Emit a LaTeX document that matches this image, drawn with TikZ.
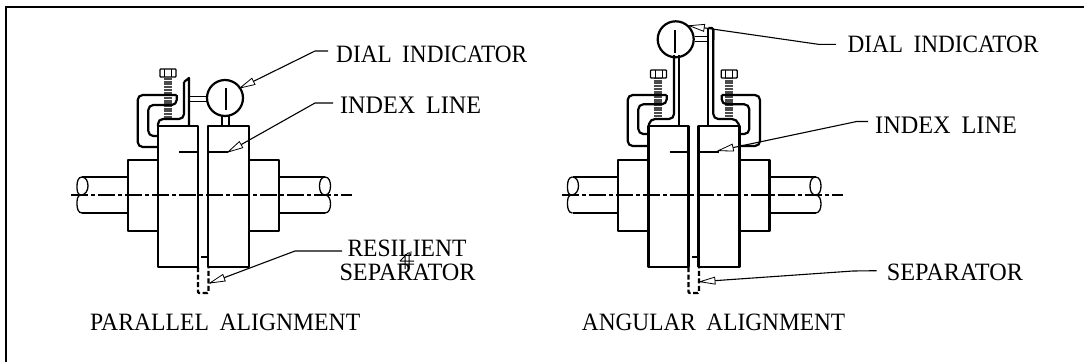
\documentclass[tikz,border=0pt]{standalone}
\usepackage{fontspec}
\usepackage{graphicx}
\usetikzlibrary{calc}
\setmainfont{Liberation Serif}
\tikzset{
 x=1pt,y=-1pt,
 heavy/.style={line width=2.2pt,line join=round},
 thin line/.style={line width=1.2pt},
 leader/.style={line width=1.1pt},
 tip/.style={draw=black,fill=white,line width=0.8pt},
 lab/.style={font=\fontsize{24}{24}\selectfont,inner sep=0pt,anchor=base west},
}
\newcommand{\fitw}[2]{\resizebox{#1pt}{16.5pt}{#2}}
\newcommand{\gap}{\hspace{0.45em}}
\newcommand{\leaderline}[4]{% tip, elbow, end, name
 \coordinate (#4tip) at (#1); \coordinate (#4elb) at (#2); \coordinate (#4end) at (#3);
 \draw[leader] (#4tip)--(#4elb)--(#4end);
 \draw[tip] (#4tip) -- ($(#4tip)!15pt!(#4elb)!3.5pt!90:(#4elb)$) -- ($(#4tip)!15pt!(#4elb)!3.5pt!-90:(#4elb)$) -- cycle;
}
\newcommand{\coupling}[1]{%
\begin{scope}[xshift=#1]
 % shafts
 \draw[heavy] (127.7,177)--(82,177) (127.7,213)--(82,213)
   (279,177)--(325,177) (279,213)--(325,213);
 \draw[line width=1.3pt] (82,177) to[out=180,in=90] (77,186) to[out=-90,in=180] (81,195) to[out=180,in=90] (77,204) to[out=-90,in=180] (82,213);
 \draw[line width=1.3pt] (82,177) to[out=0,in=90] (88,186) to[out=-90,in=0] (81,195);
 \draw[line width=1.3pt] (325,177) to[out=180,in=90] (319.5,186) to[out=-90,in=180] (325,195);
 \draw[line width=1.3pt] (325,177) to[out=0,in=90] (330.5,186) to[out=-90,in=0] (325,195) to[out=0,in=90] (330.5,204) to[out=-90,in=0] (325,213);
 % hubs
 \draw[heavy] (158,160)--(127.7,160)--(127.7,231)--(158,231);
 \draw[heavy] (249,160)--(279,160)--(279,231)--(249,231);
 % flanges
 \draw[heavy] (198,267)--(158,267)--(158,126)--(198,126)--(198,267);
 \draw[heavy] (208,267)--(249,267)--(249,126)--(208,126)--(208,267);
 % separator
 \draw[heavy] (201,257)--(208,257);
 \draw[heavy,dash pattern=on 5pt off 2.5pt,rounded corners=1pt] (198,267)--(198,293)--(208.5,293)--(208.5,267);
 % index marks
 \draw[heavy] (179,152)--(198,152) (208,152)--(228,152);
 % centre line
 \draw[line width=1.6pt,dash pattern=on 17pt off 3pt on 4pt off 3pt] (71,195)--(352,195);
\end{scope}}
\newcommand{\threads}[3]{% x centre, y0, y1
 \draw[black!70,line width=8pt,dash pattern=on 2pt off 0.7pt] (#1,#2)--(#1,#3);
}
\newcommand{\bolthead}[2]{% centre x, top y
 \draw[line width=1.3pt,fill=white,rounded corners=0.8pt] (#1-8,#2) rectangle (#1+8,#2+8);
 \draw[line width=0.9pt] (#1-3.5,#2)--(#1-3.5,#2+8) (#1+3.5,#2)--(#1+3.5,#2+8);
}
\begin{document}
\begin{tikzpicture}
\useasboundingbox (0,0) rectangle (1084,362);
\draw[line width=2pt] (6,362)--(6,6.5)--(1084,6.5);
\coupling{0pt}
\coupling{490.5pt}
% ---- left indicator
\threads{168}{78}{118}
\bolthead{168}{69}
\draw[heavy,rounded corners=5pt] (176.7,95)--(137.7,95)--(137.7,147)--(158,147);
\draw[heavy,rounded corners=5pt] (176.7,95)--(176.7,105)--(148.3,105)--(148.3,136)--(158,136);
\draw[heavy,rounded corners=5pt] (158,126)--(158,119)--(184,119)--(184,82);
\draw[heavy] (184,82)--(189,78)--(189,126);
\node[circle,draw,heavy,minimum size=36pt,inner sep=0pt] (dialL) at (225,98) {};
\draw[heavy] (225.7,88)--(225.7,110);
\draw[thin line] (190,96.7)--(207,96.7) (190,101.7)--(207,101.7);
\draw[thin line] (222,116)--(222,126) (229,116)--(229,126);
\leaderline{240,88}{315,51}{328,51}{a}
\leaderline{228,152}{315,103}{333,103}{b}
\leaderline{210,283}{295,251}{342,251}{c}
\node[lab] (t1) at (336,62) {\fitw{191}{DIAL\gap INDICATOR}};
\node[lab] (t2) at (340,113.3) {\fitw{141}{INDEX\gap LINE}};
\node[lab] (t3) at (347.3,256.7) {\fitw{119}{RESILIENT}};
\node[lab] (t4) at (339.3,280.7) {\fitw{136}{SEPARATOR}};
\node[lab] (t5) at (90,330) {\fitw{270}{PARALLEL\gap ALIGNMENT}};
\draw[line width=1pt] (405,254)--(405,269) (409,252)--(409,268) (400,261)--(414,261) (400,264)--(414,264) (400,261)--(408,253);
% ---- right indicator
\threads{658.3}{77}{118}
\bolthead{658.5}{70}
\threads{729.3}{77}{118}
\bolthead{729.2}{70}
\draw[heavy,rounded corners=5pt] (666.7,95)--(627.7,95)--(627.7,146)--(648.5,146);
\draw[heavy,rounded corners=5pt] (666.7,95)--(666.7,104.3)--(638.3,104.3)--(638.3,134)--(648.5,134);
\draw[heavy,rounded corners=5pt] (721.7,95)--(760,95)--(760,146)--(739.5,146);
\draw[heavy,rounded corners=5pt] (721.7,95)--(721.7,104.3)--(749.3,104.3)--(749.3,134)--(739.5,134);
\draw[heavy,rounded corners=5pt] (648.5,127)--(650,119)--(674,119)--(674,55);
\draw[heavy] (679.3,55)--(679.3,127);
\draw[heavy,rounded corners=5pt] (739.5,127)--(737,119)--(713.3,119)--(713.3,30);
\draw[heavy] (708.3,28)--(708.3,127);
\draw[heavy,rounded corners=1.5pt] (708.3,28)--(713.3,28)--(713.3,40);
\node[circle,draw,heavy,minimum size=36pt,inner sep=0pt] (dialR) at (675.7,39.3) {};
\draw[heavy] (675,30)--(675,52.7);
\draw[thin line] (695,36.7)--(708,36.7) (695,41.7)--(708,41.7);
\leaderline{689.3,25.7}{818.3,44.3}{836,44.3}{d}
\leaderline{718.3,150.7}{856.7,121.5}{868,121.5}{e}
\leaderline{700,281.7}{853,271}{876.7,270.7}{f}
\node[lab] (t7) at (847.3,52.3) {\fitw{191}{DIAL\gap INDICATOR}};
\node[lab] (t8) at (875,133.3) {\fitw{141.7}{INDEX\gap LINE}};
\node[lab] (t9) at (886.7,280.7) {\fitw{136}{SEPARATOR}};
\node[lab] (t10) at (581.7,330) {\fitw{263.3}{ANGULAR\gap ALIGNMENT}};
\end{tikzpicture}
\end{document}
